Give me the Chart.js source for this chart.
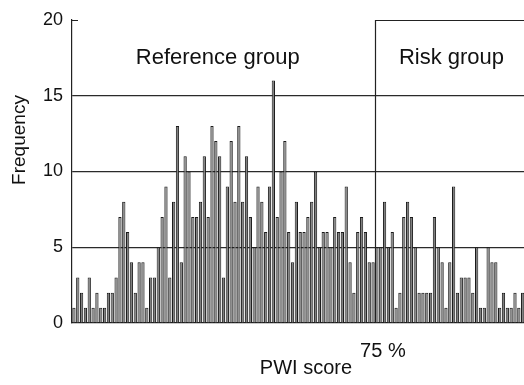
<!DOCTYPE html>
<html>
<head>
<meta charset="utf-8">
<script src="https://cdn.jsdelivr.net/npm/chart.js@4"></script>
<style>
  html, body { margin: 0; padding: 0; background: #fff; overflow: hidden; }
</style>
</head>
<body>
<canvas id="myChart" width="546" height="385"></canvas>
<script>
// PWI score histogram, one count per score bin
var frequency = [
  1, 3, 2, 1, 3, 1, 2, 1, 1, 2, 2, 3, 7, 8, 6, 4, 2, 4, 4, 1,
  3, 3, 5, 7, 9, 3, 8, 13, 4, 11, 10, 7, 7, 8, 11, 7, 13, 12, 11, 3,
  9, 12, 8, 13, 8, 11, 7, 5, 9, 8, 6, 9, 16, 7, 10, 12, 6, 4, 8, 6,
  6, 7, 8, 10, 5, 6, 6, 5, 7, 6, 6, 9, 4, 2, 6, 7, 6, 4, 4,
  5, 5, 8, 5, 6, 1, 2, 7, 8, 7, 5, 2, 2, 2, 2, 7, 5, 4, 1, 4, 9, 2,
  3, 3, 3, 2, 5, 1, 1, 5, 4, 4, 1, 2, 1, 1, 2, 1, 2, 1, 1, 1, 1
];
var scoreBins = frequency.map(function(v, i) { return i + 1; });
var riskStart = 79;          // first bin of the risk group (75th percentile)
var riskTickLabel = "75 %";
var groupLabels = ["Reference group", "Risk group"];
var yTicks = [0, 5, 10, 15, 20];

var FONT = '"Liberation Sans", Arial, sans-serif';

// Draw the risk group box, the group names and the y title
var annotations = {
  id: "annotations",
  afterDraw: function(chart) {
    var ctx = chart.ctx;
    var x = chart.scales.x, y = chart.scales.y;
    var area = chart.chartArea;
    var step = x.getPixelForValue(1) - x.getPixelForValue(0);
    var boxLeft = Math.round(x.getPixelForValue(riskStart) - step / 2) + 0.5;
    var top = Math.round(y.getPixelForValue(20)) + 0.5;
    var bottom = y.getPixelForValue(0);

    ctx.save();
    ctx.strokeStyle = "#222";
    ctx.lineWidth = 1.2;
    ctx.beginPath();
    ctx.moveTo(boxLeft, bottom);
    ctx.lineTo(boxLeft, top);
    ctx.lineTo(area.right, top);
    ctx.moveTo(area.left, top);
    ctx.lineTo(area.left + 6, top);
    ctx.stroke();

    ctx.fillStyle = "#111";
    ctx.textAlign = "center";
    ctx.textBaseline = "middle";
    ctx.font = "22px " + FONT;
    var textY = y.getPixelForValue(17.5);
    ctx.fillText(groupLabels[0], (area.left + boxLeft) / 2 - 6, textY);
    ctx.fillText(groupLabels[1], boxLeft + 76, textY);

    ctx.font = "19px " + FONT;
    ctx.translate(20, 140);
    ctx.rotate(-Math.PI / 2);
    ctx.fillText("Frequency", 0, 0);
    ctx.restore();
  }
};

var ctx = document.getElementById("myChart").getContext("2d");
var chart = new Chart(ctx, {
  type: "bar",
  data: {
    labels: scoreBins,
    datasets: [{
      data: frequency,
      backgroundColor: "#808080",
      borderColor: "#1a1a1a",
      borderWidth: 1,
      barPercentage: 1,
      categoryPercentage: 0.85
    }]
  },
  options: {
    responsive: false,
    animation: false,
    layout: { padding: { top: 18, right: 0, bottom: 0, left: 0 } },
    plugins: {
      legend: { display: false },
      tooltip: { enabled: false }
    },
    scales: {
      x: {
        grid: { display: false },
        border: { display: true, color: "#222", width: 1.2 },
        ticks: {
          autoSkip: false,
          maxRotation: 0,
          padding: 8,
          labelOffset: 6,
          color: "#111",
          font: { family: FONT, size: 20 },
          callback: function(value, index) {
            return index === riskStart ? riskTickLabel : "";
          }
        },
        title: {
          display: true,
          text: "PWI score",
          color: "#111",
          font: { family: FONT, size: 20 },
          padding: { top: 0, bottom: 5 }
        },
        afterFit: function(scale) { scale.height = 62; }
      },
      y: {
        min: 0,
        max: 20,
        z: 1,
        afterBuildTicks: function(scale) {
          scale.ticks = yTicks.map(function(v) { return { value: v }; });
        },
        grid: {
          drawTicks: false,
          color: function(c) {
            var v = c.tick.value;
            return (v > 0 && v < 20) ? "#2a2a2a" : "rgba(0,0,0,0)";
          },
          lineWidth: 1.2
        },
        border: { display: true, color: "#222", width: 1.2 },
        ticks: {
          padding: 9,
          color: "#111",
          font: { family: FONT, size: 18 }
        },
        afterFit: function(scale) { scale.width = 72; }
      }
    }
  },
  plugins: [annotations]
});
</script>
</body>
</html>
